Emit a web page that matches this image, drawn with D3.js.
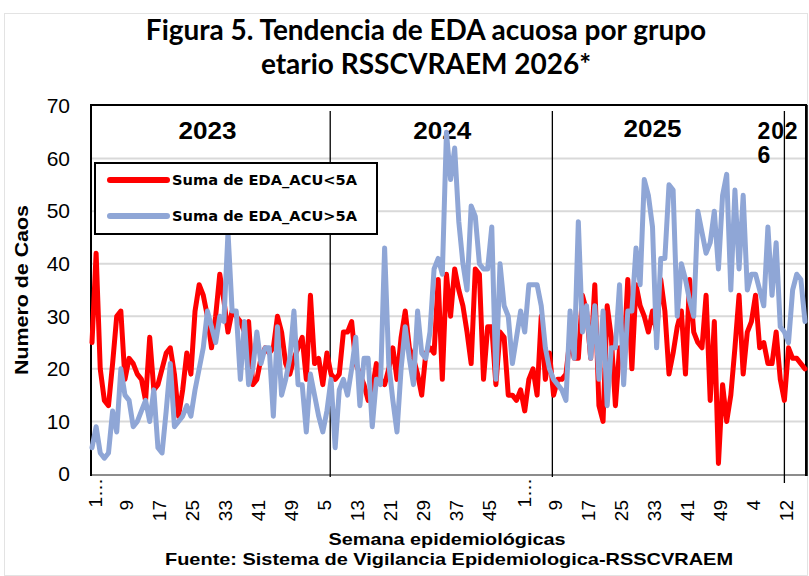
<!DOCTYPE html>
<html>
<head>
<meta charset="utf-8">
<script src="https://cdn.jsdelivr.net/npm/d3@7"></script>
<style>
    body { margin: 0; background: #ffffff; }
    svg { display: block; }
</style>
</head>
<body>
<div id="chart"></div>
<script>
// Tendencia de EDA acuosa por grupo etario

// categories: epidemiological weeks per year
var years = [ "2023", "2024", "2025", "2026" ];
var weeksPerYear = [ 52, 52, 53, 17 ];
var seriesNames = [ "Suma de EDA_ACU<5A", "Suma de EDA_ACU>5A" ];
var yTicks = [ 0, 10, 20, 30, 40, 50, 60, 70 ];

// EDA acuosa en menores de 5 anios
var menores5 = [
    25, 42, 20, 14, 13, 21, 30, 31, 18, 22, 21, 19, 18, 14, 26, 16, 17, 20, 23, 24,
    19, 11, 16, 23, 19, 31, 36, 34, 30, 24, 30, 38, 33, 27, 31, 30, 29, 27, 29, 17,
    18, 22, 24, 23, 24, 30, 27, 21, 19, 22, 24, 26,
    18, 34, 21, 22, 17, 23, 19, 18, 19, 27, 27, 29, 21, 19, 17, 14, 16, 21, 18, 17,
    20, 24, 18, 26, 31, 24, 22, 19, 15, 23, 24, 23, 37, 18, 38, 30, 39, 35, 32, 27,
    21, 39, 38, 18, 28, 28, 17, 27, 26, 15, 15, 14,
    16, 12, 18, 20, 15, 30, 18, 23, 15, 18, 18, 19, 26, 22, 22, 34, 31, 22, 36, 13,
    10, 32, 26, 13, 24, 22, 37, 20, 36, 32, 30, 27, 31, 27, 37, 31, 19, 23, 28, 31,
    19, 37, 27, 25, 24, 34, 14, 29, 2, 17, 10, 15, 24,
    34, 19, 27, 29, 34, 24, 25, 21, 21, 27, 18, 14, 24, 22, 22, 21, 20
];

// EDA acuosa en mayores de 5 anios
var mayores5 = [
    5, 9, 4, 3, 4, 12, 8, 20, 15, 14, 9, 10, 12, 14, 10, 16, 5, 4, 12, 21,
    9, 10, 11, 13, 11, 16, 20, 24, 31, 28, 25, 30, 29, 46, 31, 31, 18, 29, 17, 20,
    27, 21, 24, 24, 11, 28, 15, 18, 22, 31, 17, 17,
    8, 19, 15, 11, 8, 12, 18, 5, 16, 18, 15, 20, 26, 13, 22, 22, 9, 18, 17, 43,
    21, 14, 8, 20, 28, 22, 17, 31, 23, 22, 27, 39, 41, 38, 65, 56, 62, 48, 40, 35,
    51, 49, 40, 39, 39, 47, 18, 40, 32, 30, 21, 26,
    31, 27, 36, 36, 36, 32, 24, 20, 18, 17, 16, 14, 31, 22, 48, 27, 32, 22, 32, 18,
    31, 13, 24, 24, 36, 17, 31, 31, 43, 36, 56, 53, 47, 24, 41, 41, 55, 54, 30, 40,
    37, 33, 30, 50, 46, 42, 44, 50, 39, 53, 57, 35, 54,
    39, 53, 35, 38, 38, 35, 32, 47, 34, 44, 28, 27, 25, 35, 38, 37, 29
];

// year separators and year captions, in category units
var yearBreaks = [ 57.8, 111.7, 168 ];
var yearLabelAt = [ 28, 85, 136, 161.5 ];

// build the category list (week number of each point)
var weeks = [];
weeksPerYear.forEach( function( n ) {
    for( var w = 1 ; w <= n ; w++ )
        weeks.push( w );
});

var width = 809, height = 576;
var margin = { top: 106, right: 4, bottom: 102, left: 92 };
var arial = "'Liberation Sans', Arial, sans-serif";

var svg = d3.select( "#chart" ).append( "svg" )
    .attr( "width", width )
    .attr( "height", height );

// light frame around the whole chart
svg.append( "rect" )
    .attr( "x", 4.5 ).attr( "y", 13.5 )
    .attr( "width", width - 6 ).attr( "height", height - 14 )
    .attr( "fill", "none" )
    .attr( "stroke", "#e3e3e3" );

// title
var title = svg.append( "text" )
    .attr( "text-anchor", "middle" )
    .style( "font-family", "Lato, 'Open Sans', sans-serif" )
    .style( "font-weight", "bold" )
    .style( "font-size", "28px" )
    .style( "fill", "#000" );
title.append( "tspan" ).attr( "x", 426 ).attr( "y", 40 ).text( "Figura 5. Tendencia de EDA acuosa por grupo" );
title.append( "tspan" ).attr( "x", 426 ).attr( "y", 74 ).text( "etario RSSCVRAEM 2026*" );

// scales
var x = d3.scaleLinear()
    .domain( [ 0, weeks.length - 1 ] )
    .range( [ margin.left, width - margin.right ] );
var y = d3.scaleLinear()
    .domain( [ 0, 70 ] )
    .range( [ height - margin.bottom, margin.top ] );

// gridlines
svg.append( "g" )
    .selectAll( "line" )
    .data( yTicks.filter( function( d ) { return d > 0 && d < 70; } ) )
    .enter().append( "line" )
    .attr( "x1", x( 0 ) ).attr( "x2", x( weeks.length - 1 ) )
    .attr( "y1", function( d ) { return y( d ); } )
    .attr( "y2", function( d ) { return y( d ); } )
    .attr( "stroke", "#d9d9d9" )
    .attr( "stroke-width", 2 );

// y axis labels
var yAxis = svg.append( "g" )
    .attr( "transform", "translate(" + ( margin.left - 2 ) + ",0)" )
    .call( d3.axisLeft( y ).tickValues( yTicks ).tickSize( 0 ).tickPadding( 20 ) );
yAxis.select( ".domain" ).remove();
yAxis.selectAll( "text" )
    .style( "font-family", arial )
    .style( "font-size", "21px" )
    .style( "fill", "#000" );

// x axis labels, one every 8 weeks
var xTickIdx = d3.range( 0, weeks.length, 8 );
var xAxis = svg.append( "g" )
    .attr( "transform", "translate(0," + ( height - margin.bottom ) + ")" )
    .call( d3.axisBottom( x ).tickValues( xTickIdx ).tickSize( 0 )
        .tickFormat( function( i ) { return weeks[ i ] === 1 ? "1\u2026" : weeks[ i ]; } ) );
xAxis.select( ".domain" ).remove();
xAxis.selectAll( "text" )
    .attr( "transform", function( i ) { return "translate(" + ( weeks[ i ] === 1 ? 3 : 1 ) + "," + ( weeks[ i ] === 1 ? 4 : 26 ) + ") rotate(-90)"; } )
    .attr( "x", 0 ).attr( "y", 0 ).attr( "dy", "0.35em" )
    .style( "text-anchor", "end" )
    .style( "font-family", arial )
    .style( "font-size", "19px" )
    .style( "fill", "#000" );

// bottom axis line
svg.append( "line" )
    .attr( "x1", x( 0 ) ).attr( "x2", x( weeks.length - 1 ) )
    .attr( "y1", y( 0 ) + 1 ).attr( "y2", y( 0 ) + 1 )
    .attr( "stroke", "#8c8c8c" )
    .attr( "stroke-width", 2 );

// plot border: top, left and right
svg.append( "path" )
    .attr( "d", "M" + ( x( 0 ) - 1 ) + "," + ( y( 0 ) + 2 ) + "V" + ( y( 70 ) - 1 ) +
        "H" + ( x( weeks.length - 1 ) + 1 ) + "V" + ( y( 0 ) + 2 ) )
    .attr( "fill", "none" )
    .attr( "stroke", "#000" )
    .attr( "stroke-width", 2 );
svg.append( "line" )
    .attr( "x1", x( weeks.length - 1 ) + 2 ).attr( "x2", x( weeks.length - 1 ) + 2 )
    .attr( "y1", y( 70 ) - 1 ).attr( "y2", y( 0 ) + 2 )
    .attr( "stroke", "#000" )
    .attr( "stroke-width", 1.5 );

// year separators
svg.append( "g" )
    .selectAll( "line" )
    .data( yearBreaks )
    .enter().append( "line" )
    .attr( "x1", function( d ) { return x( d ); } )
    .attr( "x2", function( d ) { return x( d ); } )
    .attr( "y1", y( 70 ) + 5 )
    .attr( "y2", function( d, i ) { return y( 0 ) + ( i === 2 ? 9 : 3 ); } )
    .attr( "stroke", "#000" )
    .attr( "stroke-width", 1.3 );

// year captions
years.forEach( function( yr, i ) {
    var t = svg.append( "text" )
        .attr( "x", x( yearLabelAt[ i ] ) )
        .attr( "y", i === 2 ? 137 : 139 )
        .attr( "text-anchor", i === 3 ? "start" : "middle" )
        .style( "font-family", arial )
        .style( "font-weight", "bold" )
        .style( "font-size", "23px" )
        .style( "fill", "#000" );
    if( i === 3 )
    {
        t.append( "tspan" ).attr( "x", x( yearLabelAt[ i ] ) ).attr( "textLength", 40 ).text( yr.slice( 0, 3 ) );
        t.append( "tspan" ).attr( "x", x( yearLabelAt[ i ] ) ).attr( "dy", 24 ).text( yr.slice( 3 ) );
    }
    else
        t.attr( "textLength", 58 ).attr( "lengthAdjust", "spacingAndGlyphs" ).text( yr );
});

// the two series
var line = d3.line()
    .x( function( d, i ) { return x( i ); } )
    .y( function( d ) { return y( d ); } );

var colors = [ "#ff0000", "#8fa6d6" ];
[ menores5, mayores5 ].forEach( function( s, k ) {
    svg.append( "path" )
        .datum( s )
        .attr( "d", line )
        .attr( "fill", "none" )
        .attr( "stroke", colors[ k ] )
        .attr( "stroke-width", 5 )
        .attr( "stroke-linejoin", "round" )
        .attr( "stroke-linecap", "round" );
});

// legend
var legend = svg.append( "g" ).attr( "transform", "translate(95,163)" );
legend.append( "rect" )
    .attr( "width", 282 ).attr( "height", 71 )
    .attr( "fill", "#fff" )
    .attr( "stroke", "#000" )
    .attr( "stroke-width", 2 );
seriesNames.forEach( function( name, k ) {
    legend.append( "line" )
        .attr( "x1", 15 ).attr( "x2", 72 )
        .attr( "y1", 17 + k * 36 ).attr( "y2", 17 + k * 36 )
        .attr( "stroke", colors[ k ] )
        .attr( "stroke-width", 6 )
        .attr( "stroke-linecap", "round" );
    legend.append( "text" )
        .attr( "x", 77 ).attr( "y", 17 + k * 36 ).attr( "dy", "0.36em" )
        .attr( "textLength", 185 )
        .attr( "lengthAdjust", "spacingAndGlyphs" )
        .style( "font-family", "'DejaVu Sans', Verdana, sans-serif" )
        .style( "font-weight", "bold" )
        .style( "font-size", "14.5px" )
        .style( "fill", "#000" )
        .text( name );
});

// axis titles
svg.append( "text" )
    .attr( "transform", "translate(28," + ( ( y( 0 ) + y( 70 ) ) / 2 ) + ") rotate(-90)" )
    .attr( "text-anchor", "middle" )
    .attr( "textLength", 170 )
    .attr( "lengthAdjust", "spacingAndGlyphs" )
    .style( "font-family", arial )
    .style( "font-weight", "bold" )
    .style( "font-size", "18px" )
    .style( "fill", "#000" )
    .text( "Numero de Caos" );

svg.append( "text" )
    .attr( "x", 447 ).attr( "y", 545 )
    .attr( "text-anchor", "middle" )
    .attr( "textLength", 237 )
    .attr( "lengthAdjust", "spacingAndGlyphs" )
    .style( "font-family", arial )
    .style( "font-weight", "bold" )
    .style( "font-size", "17px" )
    .style( "fill", "#000" )
    .text( "Semana epidemiológicas" );

svg.append( "text" )
    .attr( "x", 449 ).attr( "y", 565 )
    .attr( "text-anchor", "middle" )
    .attr( "textLength", 568 )
    .attr( "lengthAdjust", "spacingAndGlyphs" )
    .style( "font-family", arial )
    .style( "font-weight", "bold" )
    .style( "font-size", "17px" )
    .style( "fill", "#000" )
    .text( "Fuente: Sistema de Vigilancia Epidemiologica-RSSCVRAEM" );
</script>
</body>
</html>
